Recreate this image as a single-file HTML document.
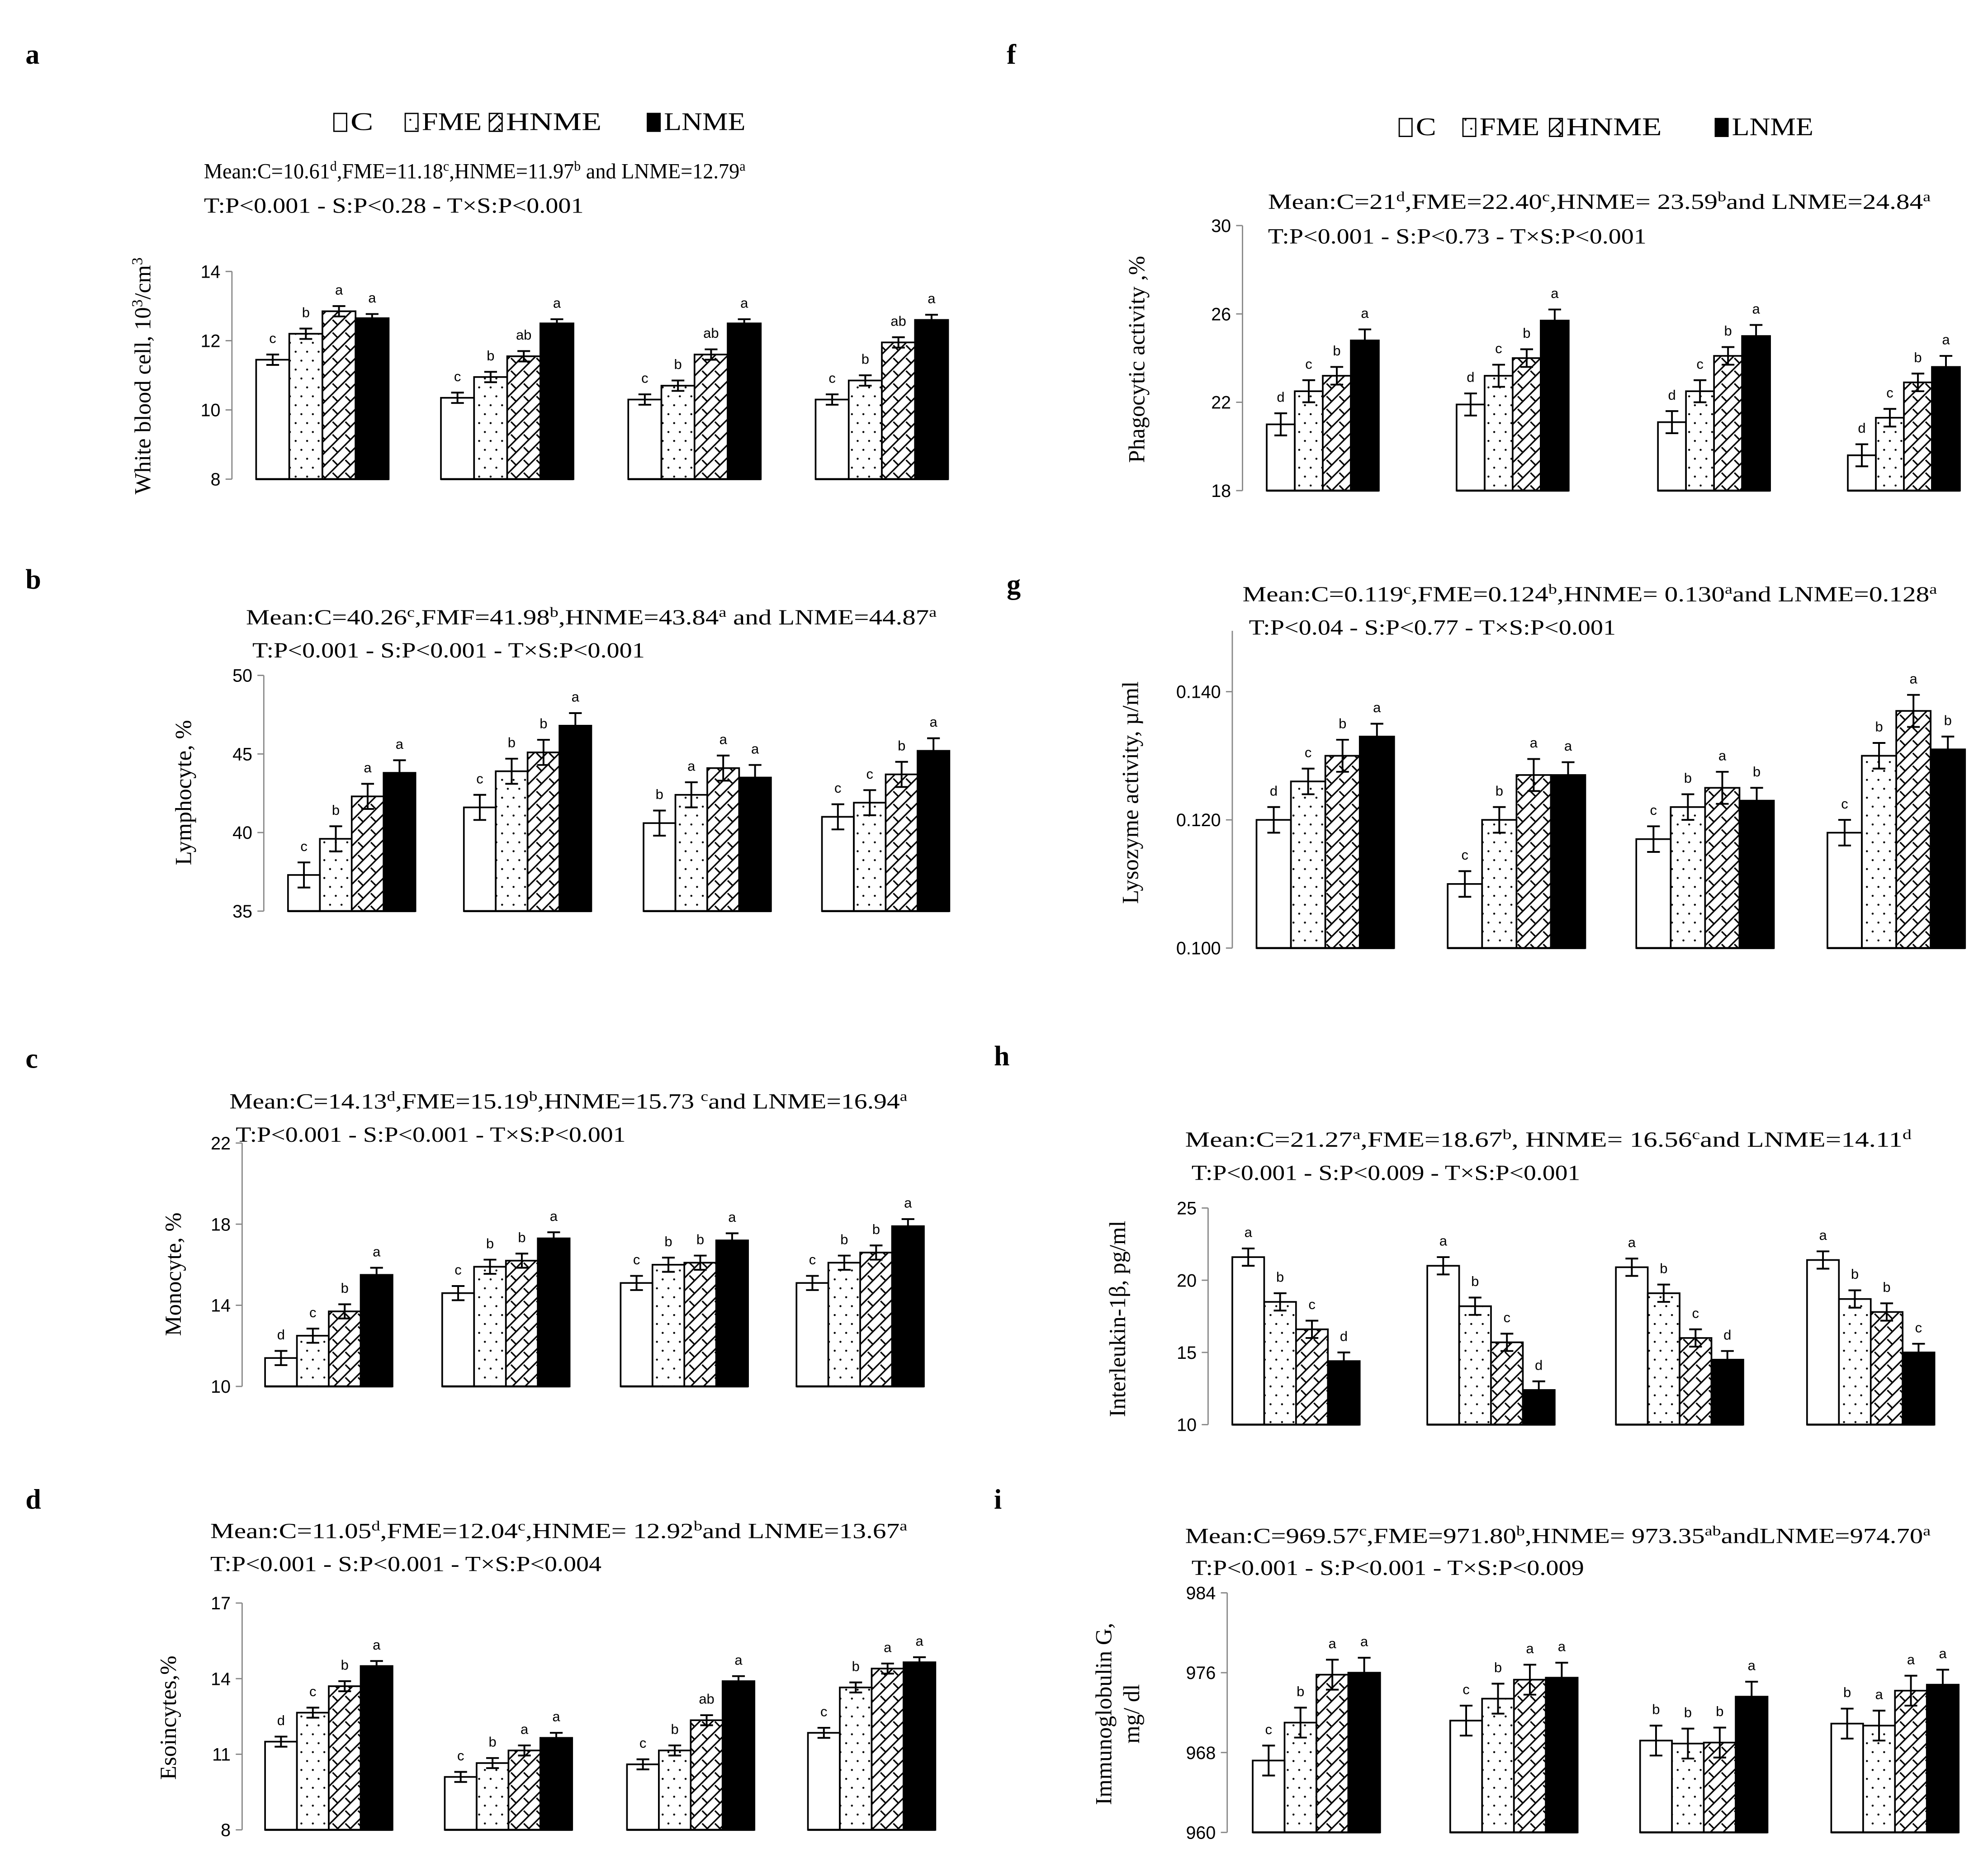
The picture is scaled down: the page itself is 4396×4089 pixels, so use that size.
<!DOCTYPE html>
<html><head><meta charset="utf-8">
<style>
html,body{margin:0;padding:0;background:#fff;}
svg{display:block;}
text{fill:#000;}
.ser{font-family:"Liberation Serif",serif;}
.san{font-family:"Liberation Sans",sans-serif;}
</style></head>
<body>
<svg id="fig" xmlns="http://www.w3.org/2000/svg" width="4396" height="4089" viewBox="0 0 1560 1451">
<defs>
<pattern id="dots" patternUnits="userSpaceOnUse" width="9" height="14">
<circle cx="2.5" cy="3" r="0.8" fill="#000"/><circle cx="7" cy="10" r="0.8" fill="#000"/>
</pattern>
<pattern id="hatch" patternUnits="userSpaceOnUse" width="10" height="10">
<rect width="10" height="10" fill="#fff"/>
<path d="M0,10 L10,0 M-2,2 L2,-2 M8,12 L12,8" stroke="#000" stroke-width="1.2"/>
<path d="M1,1 L5,5" stroke="#000" stroke-width="1.2"/>
</pattern>
</defs>
<g id="root"></g>
</svg>
<script>
// ---- data ----
const groups = ["S1","S2","S3","S4"];
const treatments = ["C","FME","HNME","LNME"];

const wbcValues = [[11.45,12.2,12.85,12.65],[10.35,10.95,11.55,12.5],[10.3,10.7,11.6,12.5],[10.3,10.85,11.95,12.6]];
const wbcErr = [[0.15,0.15,0.15,0.12],[0.15,0.15,0.15,0.12],[0.15,0.15,0.15,0.12],[0.15,0.15,0.15,0.15]];
const wbcLetters = [["c","b","a","a"],["c","b","ab","a"],["c","b","ab","a"],["c","b","ab","a"]];
const wbcTicks = [8,10,12,14];

const lymValues = [[37.3,39.6,42.3,43.8],[41.6,43.9,45.1,46.8],[40.6,42.4,44.1,43.5],[41.0,41.9,43.7,45.2]];
const lymErr = [[0.8,0.8,0.8,0.8],[0.8,0.8,0.8,0.8],[0.8,0.8,0.8,0.8],[0.8,0.8,0.8,0.8]];
const lymLetters = [["c","b","a","a"],["c","b","b","a"],["b","a","a","a"],["c","c","b","a"]];
const lymTicks = [35,40,45,50];

const monoValues = [[11.4,12.5,13.7,15.5],[14.6,15.9,16.2,17.3],[15.1,16.0,16.1,17.2],[15.1,16.1,16.6,17.9]];
const monoErr = [[0.35,0.35,0.35,0.35],[0.35,0.35,0.35,0.3],[0.35,0.35,0.35,0.35],[0.35,0.35,0.35,0.35]];
const monoLetters = [["d","c","b","a"],["c","b","b","a"],["c","b","b","a"],["c","b","b","a"]];
const monoTicks = [10,14,18,22];

const eosValues = [[11.5,12.65,13.7,14.5],[10.1,10.65,11.15,11.65],[10.6,11.15,12.35,13.9],[11.85,13.65,14.4,14.65]];
const eosErr = [[0.2,0.2,0.2,0.2],[0.2,0.2,0.2,0.2],[0.2,0.2,0.2,0.2],[0.2,0.2,0.2,0.2]];
const eosLetters = [["d","c","b","a"],["c","b","a","a"],["c","b","ab","a"],["c","b","a","a"]];
const eosTicks = [8,11,14,17];

const phaValues = [[21.0,22.5,23.2,24.8],[21.9,23.2,24.0,25.7],[21.1,22.5,24.1,25.0],[19.6,21.3,22.9,23.6]];
const phaErr = [[0.5,0.5,0.4,0.5],[0.5,0.5,0.4,0.5],[0.5,0.5,0.4,0.5],[0.5,0.4,0.4,0.5]];
const phaLetters = [["d","c","b","a"],["d","c","b","a"],["d","c","b","a"],["d","c","b","a"]];
const phaTicks = [18,22,26,30];

const lysValues = [[0.120,0.126,0.130,0.133],[0.110,0.120,0.127,0.127],[0.117,0.122,0.125,0.123],[0.118,0.130,0.137,0.131]];
const lysErr = [[0.002,0.002,0.0025,0.002],[0.002,0.002,0.0025,0.002],[0.002,0.002,0.0025,0.002],[0.002,0.002,0.0025,0.002]];
const lysLetters = [["d","c","b","a"],["c","b","a","a"],["c","b","a","b"],["c","b","a","b"]];
const lysTicks = ["0.100","0.120","0.140"];

const ilValues = [[21.6,18.5,16.6,14.4],[21.0,18.2,15.7,12.4],[20.9,19.1,16.0,14.5],[21.4,18.7,17.8,15.0]];
const ilErr = [[0.6,0.6,0.6,0.6],[0.6,0.6,0.6,0.6],[0.6,0.6,0.6,0.6],[0.6,0.6,0.6,0.6]];
const ilLetters = [["a","b","c","d"],["a","b","c","d"],["a","b","c","d"],["a","b","b","c"]];
const ilTicks = [10,15,20,25];

const igValues = [[967.2,971.0,975.8,976.0],[971.2,973.4,975.3,975.5],[969.2,968.9,969.0,973.6],[970.9,970.7,974.2,974.8]];
const igErr = [[1.5,1.5,1.5,1.5],[1.5,1.5,1.5,1.5],[1.5,1.5,1.5,1.5],[1.5,1.5,1.5,1.5]];
const igLetters = [["c","b","a","a"],["c","b","a","a"],["b","b","b","a"],["b","a","a","a"]];
const igTicks = [960,968,976,984];

// ---- layout ----
const NS = "http://www.w3.org/2000/svg";
const root = document.getElementById("root");
function mk(tag, attrs, parent){
  const e = document.createElementNS(NS, tag);
  for (const k in attrs) e.setAttribute(k, attrs[k]);
  (parent||root).appendChild(e);
  return e;
}
const fills = ["#fff","url(#dots)","url(#hatch)","#000"];

function panel(p){
  const g = mk("g", {});
  
  
  const lo = Number(p.ticks[0]), hi = p.max;
  const y = v => p.y0 - (v - lo) / (hi - lo) * (p.y0 - p.yTop);
  const pl = mk("text", {x:p.lx, y:p.ly, class:"ser", "font-size":22, "font-weight":"bold"}, g);
  pl.textContent = p.letter;
  
  
  const m = mk("text", {x:p.mx, y:p.my, class:"ser", "font-size":17, textLength:p.mw, lengthAdjust:"spacingAndGlyphs"}, g);
  
  
  p.mean.forEach(s => {
    const t = mk("tspan", s[1] ? {"baseline-shift":"super","font-size":11} : {}, m);
    t.textContent = s[0];
  });
  const tl = mk("text", {x:p.tx, y:p.ty, class:"ser", "font-size":17, textLength:p.tw, lengthAdjust:"spacingAndGlyphs"}, g);
  tl.textContent = p.stat;
  
  
  const yl = mk("text", {x:0, y:0, class:"ser", "font-size":18, "text-anchor":"middle", transform:`translate(${p.ylx},${p.yly}) rotate(-90)`}, g);
  
  
  p.ylab.forEach(s => {
    const t = mk("tspan", s[1] ? {"baseline-shift":"super","font-size":12} : {}, yl);
    t.textContent = s[0];
  });
  if (p.ylab2){
    const y2 = mk("text", {x:0, y:0, class:"ser", "font-size":18, "text-anchor":"middle", transform:`translate(${p.ylx+22},${p.yly}) rotate(-90)`}, g);
    y2.textContent = p.ylab2;
    
    
  }
  const ax = mk("line", {x1:p.ax, x2:p.ax, y1:p.yTop, y2:p.y0, stroke:"#888", "stroke-width":1}, g);
  
  
  p.ticks.forEach(tv => {
    const yy = y(Number(tv));
    const tk = mk("line", {x1:p.ax-5, x2:p.ax, y1:yy, y2:yy, stroke:"#888", "stroke-width":1}, g);
    
    
    const lab = mk("text", {x:p.ax-9, y:yy+5, class:"san", "font-size":14, "text-anchor":"end", fill:"#222"}, g);
    lab.textContent = tv;
    
    
  });
  groups.forEach((gn, gi) => {
    const gx = p.gx[gi];
    p.values[gi].forEach((v, ti) => {
      const x = gx + ti * p.bw;
      const top = y(v);
      const r = mk("rect", {x:x, y:top, width:p.bw, height:p.y0 - top, fill:fills[ti], stroke:"#000", "stroke-width":1.3}, g);
      
      
      const cx = x + p.bw/2, e = p.err[gi][ti];
      const eb = mk("path", {d:`M${cx},${y(v-e)} V${y(v+e)} M${cx-5},${y(v+e)} H${cx+5} M${cx-5},${y(v-e)} H${cx+5}`, stroke:"#000", "stroke-width":1.4, fill:"none"}, g);
      
      
      const lt = mk("text", {x:cx, y:y(v+e)-9, class:"san", "font-size":11, "text-anchor":"middle"}, g);
      lt.textContent = p.letters[gi][ti];
      
      
    });
    const base = mk("line", {x1:gx, x2:gx+4*p.bw, y1:p.y0, y2:p.y0, stroke:"#000", "stroke-width":1.6}, g);
    
    
  });
}

function legend(y0, xs, ws){
  const g = mk("g", {});
  
  
  treatments.forEach((t, i) => {
    const sw = mk("rect", {x:xs[i], y:y0-13, width:10, height:14, fill:fills[i], stroke:"#000", "stroke-width":1}, g);
    
    
    const tx = mk("text", {x:xs[i]+13, y:y0, class:"ser", "font-size":20, textLength:ws[i], lengthAdjust:"spacingAndGlyphs"}, g);
    tx.textContent = t;
    
    
  });
}
legend(102, [262, 318, 384, 508], [18, 47, 75, 64]);
legend(106, [1098, 1148, 1216, 1346], [16, 47, 75, 64]);

const sup = s => [s, true];
panel({name:"white-blood-cell", letter:"a", lx:20, ly:50, values:wbcValues, err:wbcErr, letters:wbcLetters, ticks:wbcTicks, max:14,
  ax:182, yTop:213, y0:376, gx:[201,346,493,640], bw:26,
  mx:160, my:140, mw:425, tx:160, ty:167, tw:298,
  mean:[["Mean:C=10.61"],sup("d"),[",FME=11.18"],sup("c"),[",HNME=11.97"],sup("b"),[" and LNME=12.79"],sup("a")],
  stat:"T:P<0.001 - S:P<0.28 - T×S:P<0.001", ylx:118, yly:295, ylab:[["White blood cell, 10"],sup("3"),["/cm"],sup("3")]});
panel({name:"lymphocyte", letter:"b", lx:20, ly:462, values:lymValues, err:lymErr, letters:lymLetters, ticks:lymTicks, max:50,
  ax:207, yTop:530, y0:715, gx:[226,364,505,645], bw:25,
  mx:193, my:490, mw:542, tx:198, ty:516, tw:308,
  mean:[["Mean:C=40.26"],sup("c"),[",FMF=41.98"],sup("b"),[",HNME=43.84"],sup("a"),[" and LNME=44.87"],sup("a")],
  stat:"T:P<0.001 - S:P<0.001 - T×S:P<0.001", ylx:150, yly:622, ylab:[["Lymphocyte, %"]]});
panel({name:"monocyte", letter:"c", lx:20, ly:838, values:monoValues, err:monoErr, letters:monoLetters, ticks:monoTicks, max:22,
  ax:190, yTop:897, y0:1088, gx:[208,347,487,625], bw:25,
  mx:180, my:870, mw:532, tx:185, ty:896, tw:306,
  mean:[["Mean:C=14.13"],sup("d"),[",FME=15.19"],sup("b"),[",HNME=15.73 "],sup("c"),["and LNME=16.94"],sup("a")],
  stat:"T:P<0.001 - S:P<0.001 - T×S:P<0.001", ylx:142, yly:1000, ylab:[["Monocyte, %"]]});
panel({name:"eosinocytes", letter:"d", lx:20, ly:1184, values:eosValues, err:eosErr, letters:eosLetters, ticks:eosTicks, max:17,
  ax:190, yTop:1258, y0:1436, gx:[208,349,492,634], bw:25,
  mx:165, my:1207, mw:547, tx:165, ty:1233, tw:307,
  mean:[["Mean:C=11.05"],sup("d"),[",FME=12.04"],sup("c"),[",HNME= 12.92"],sup("b"),["and LNME=13.67"],sup("a")],
  stat:"T:P<0.001 - S:P<0.001 - T×S:P<0.004", ylx:138, yly:1348, ylab:[["Esoincytes,%"]]});
panel({name:"phagocytic-activity", letter:"f", lx:790, ly:50, values:phaValues, err:phaErr, letters:phaLetters, ticks:phaTicks, max:30,
  ax:975, yTop:177, y0:385, gx:[994,1143,1301,1450], bw:22,
  mx:995, my:164, mw:520, tx:995, ty:191, tw:297,
  mean:[["Mean:C=21"],sup("d"),[",FME=22.40"],sup("c"),[",HNME= 23.59"],sup("b"),["and LNME=24.84"],sup("a")],
  stat:"T:P<0.001 - S:P<0.73 - T×S:P<0.001", ylx:898, yly:282, ylab:[["Phagocytic activity ,%"]]});
panel({name:"lysozyme-activity", letter:"g", lx:790, ly:466, values:lysValues, err:lysErr, letters:lysLetters, ticks:lysTicks, max:0.1495,
  ax:967, yTop:495, y0:744, gx:[986,1136,1284,1434], bw:27,
  mx:975, my:472, mw:545, tx:980, ty:498, tw:288,
  mean:[["Mean:C=0.119"],sup("c"),[",FME=0.124"],sup("b"),[",HNME= 0.130"],sup("a"),["and LNME=0.128"],sup("a")],
  stat:"T:P<0.04 - S:P<0.77 - T×S:P<0.001", ylx:893, yly:622, ylab:[["Lysozyme activity, µ/ml"]]});
panel({name:"interleukin-1b", letter:"h", lx:780, ly:836, values:ilValues, err:ilErr, letters:ilLetters, ticks:ilTicks, max:25,
  ax:948, yTop:948, y0:1118, gx:[967,1120,1268,1418], bw:25,
  mx:930, my:900, mw:570, tx:935, ty:926, tw:305,
  mean:[["Mean:C=21.27"],sup("a"),[",FME=18.67"],sup("b"),[", HNME= 16.56"],sup("c"),["and LNME=14.11"],sup("d")],
  stat:"T:P<0.001 - S:P<0.009 - T×S:P<0.001", ylx:883, yly:1035, ylab:[["Interleukin-1β, pg/ml"]]});
panel({name:"immunoglobulin-g", letter:"i", lx:780, ly:1184, values:igValues, err:igErr, letters:igLetters, ticks:igTicks, max:984,
  ax:963, yTop:1250, y0:1438, gx:[983,1138,1287,1437], bw:25,
  mx:930, my:1211, mw:585, tx:935, ty:1236, tw:308,
  mean:[["Mean:C=969.57"],sup("c"),[",FME=971.80"],sup("b"),[",HNME= 973.35"],sup("ab"),["andLNME=974.70"],sup("a")],
  stat:"T:P<0.001 - S:P<0.001 - T×S:P<0.009", ylx:872, yly:1345, ylab:[["Immunoglobulin G,"]], ylab2:"mg/ dl"});
</script>
</body></html>
